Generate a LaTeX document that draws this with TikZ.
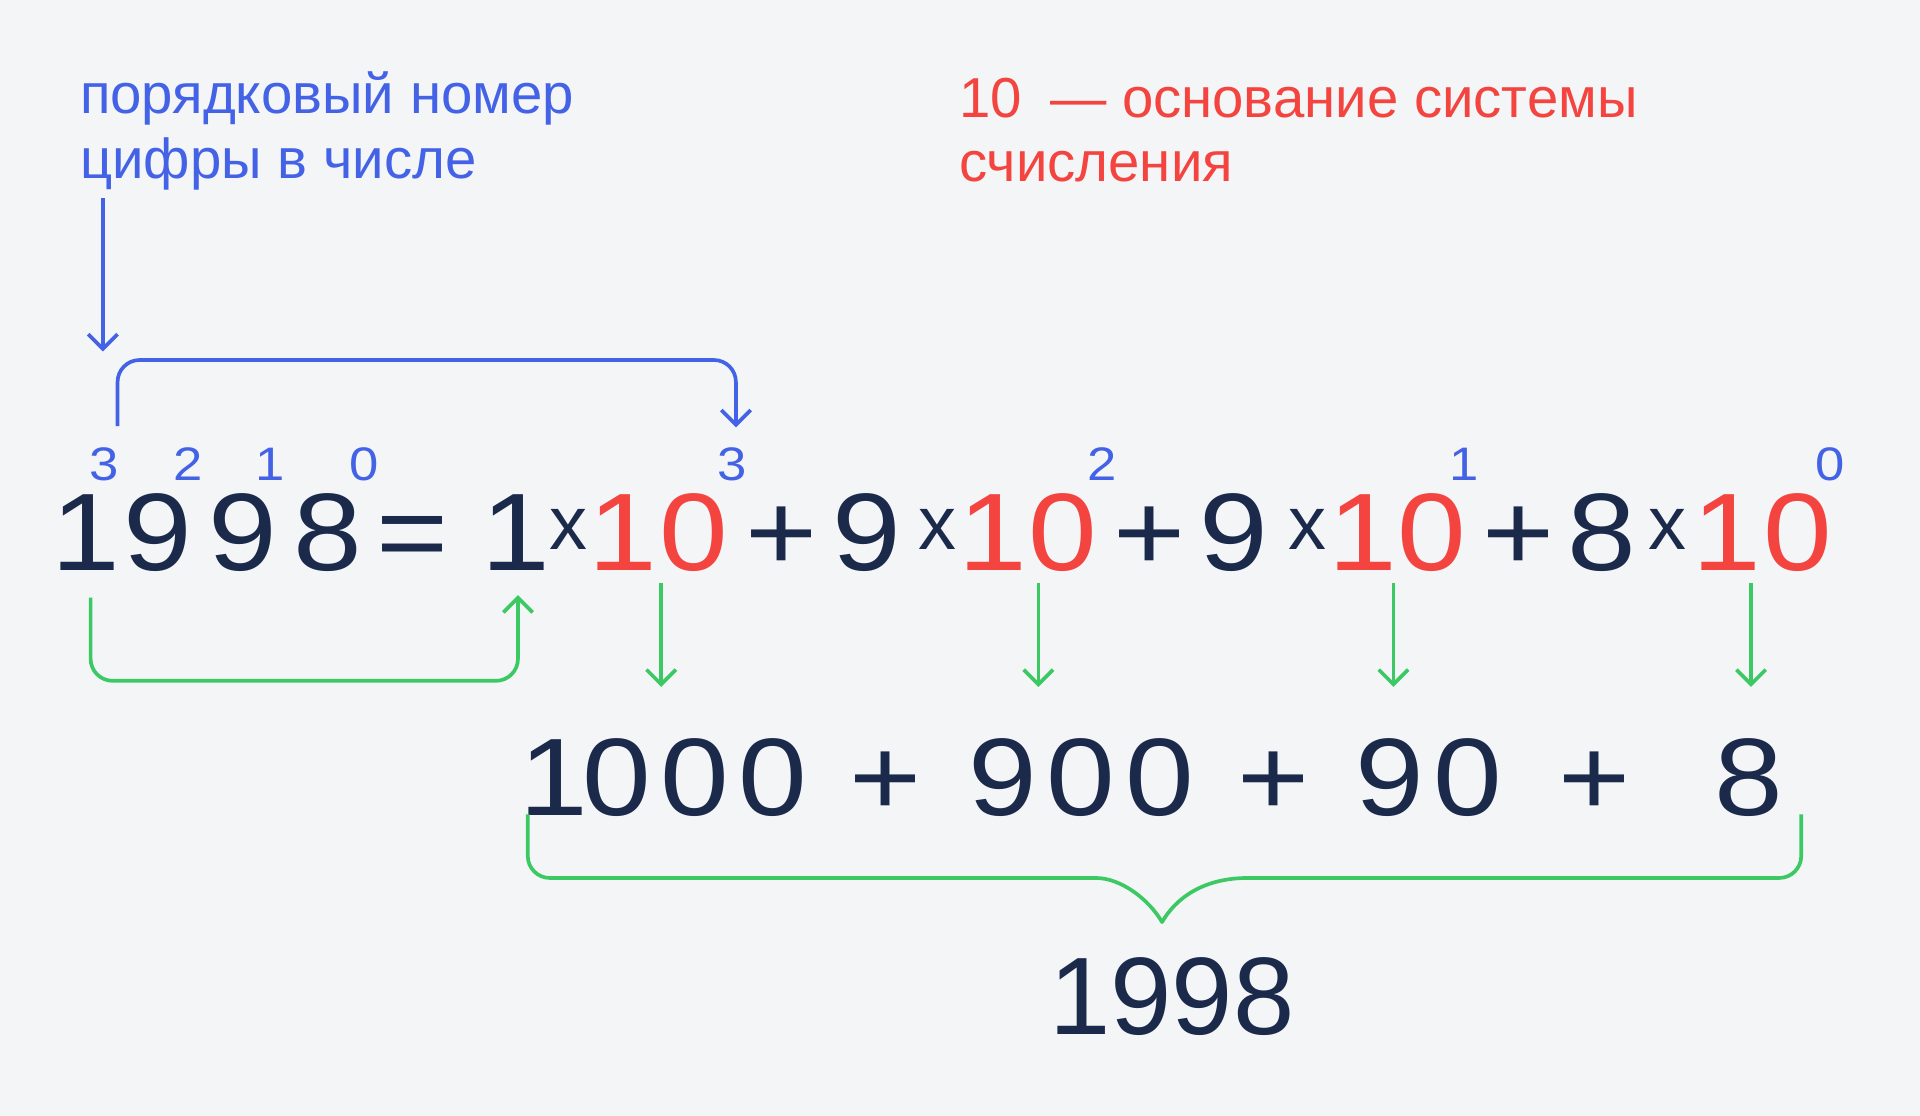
\documentclass[tikz,border=0pt]{standalone}
\usepackage{fontspec}
\setmainfont{Liberation Sans}
\newfontfamily\widefont[FakeStretch=1.12]{Liberation Sans}
\usetikzlibrary{arrows.meta}
\definecolor{bgc}{HTML}{F3F5F7}
\definecolor{navy}{HTML}{1B2A4B}
\definecolor{redc}{HTML}{F4443F}
\definecolor{bluec}{HTML}{4462E6}
\definecolor{greenc}{HTML}{3CC964}
\tikzset{
  mainglyph/.style={inner sep=0pt, anchor=base, text=navy, font=\widefont\fontsize{45}{54}\selectfont},
  baseglyph/.style={mainglyph, text=redc},
  sumglyph/.style={inner sep=0pt, anchor=base, text=navy, font=\fontsize{45}{54}\selectfont},
  supglyph/.style={inner sep=0pt, anchor=base, text=bluec, font=\widefont\fontsize{19.2}{23}\selectfont},
  multglyph/.style={inner sep=0pt, anchor=base, text=navy, font=\fontsize{31}{36}\selectfont},
  bluelabel/.style={inner sep=0pt, anchor=base west, text=bluec, font=\fontsize{23}{28}\selectfont},
  redlabel/.style={inner sep=0pt, anchor=base west, text=redc, font=\fontsize{23}{28}\selectfont},
  arrowd/.style={-{Straight Barb[length=6pt,width=12pt]}},
  bline/.style={draw=bluec, line width=1.5pt},
  gline/.style={draw=greenc, line width=1.5pt},
}
\newcommand{\dk}{\kern4pt}
\begin{document}
\begin{tikzpicture}[x=0.5pt,y=-0.5pt]
\fill[bgc] (0,0) rectangle (1568,911);
\useasboundingbox (0,0) rectangle (1568,911);

% top labels
\node[bluelabel] (bl1) at (65,93) {порядковый номер};
\node[bluelabel] (bl2) at (65,146) {цифры в числе};
\node[redlabel] (rl1) at (783,96) {10\enspace — основание системы};
\node[redlabel] (rl2) at (783,148) {счисления};

% main row
\node[mainglyph] (a1) at (70,466) {1};
\node[mainglyph] (a2) at (129,466) {9};
\node[mainglyph] (a3) at (198,466) {9};
\node[mainglyph] (a4) at (268,466) {8};
\node[mainglyph] (eq) at (337,466) {=};
\node[mainglyph] (c1) at (421,466) {1};
\node[multglyph] (m1) at (464,449) {x};
\node[baseglyph] (t1a) at (509,466) {1};
\node[baseglyph] (t1b) at (567,466) {0};
\node[mainglyph] (p1) at (638,466) {+};
\node[mainglyph] (c2) at (708,466) {9};
\node[multglyph] (m2) at (766,449) {x};
\node[baseglyph] (t2a) at (811,466) {1};
\node[baseglyph] (t2b) at (868,466) {0};
\node[mainglyph] (p2) at (939,466) {+};
\node[mainglyph] (c3) at (1008,466) {9};
\node[multglyph] (m3) at (1068,449) {x};
\node[baseglyph] (t3a) at (1113,466) {1};
\node[baseglyph] (t3b) at (1169,466) {0};
\node[mainglyph] (p3) at (1240,466) {+};
\node[mainglyph] (c4) at (1308,466) {8};
\node[multglyph] (m4) at (1362,449) {x};
\node[baseglyph] (t4a) at (1410,466) {1};
\node[baseglyph] (t4b) at (1468,466) {0};

% superscripts
\node[supglyph] (s3) at (85,392) {3};
\node[supglyph] (s2) at (154,392) {2};
\node[supglyph] (s1) at (221,392) {1};
\node[supglyph] (s0) at (297,392) {0};
\node[supglyph] (e3) at (598,392) {3};
\node[supglyph] (e2) at (900,392) {2};
\node[supglyph] (e1) at (1196,392) {1};
\node[supglyph] (e0) at (1495,392) {0};

% second row
\node[mainglyph] (r1) at (542,666) {1\kern-2.5pt 0\dk0\dk0};
\node[mainglyph] (rp1) at (723,666) {+};
\node[mainglyph] (r2) at (883,666) {9\dk0\dk0};
\node[mainglyph] (rp2) at (1040,666) {+};
\node[mainglyph] (r3) at (1167,666) {9\dk0};
\node[mainglyph] (rp3) at (1302,666) {+};
\node[mainglyph] (r4) at (1428,666) {8};

% result
\node[sumglyph] (res) at (957,845) {1998};

% blue connectors
\coordinate (ba0) at (84,162);
\coordinate (ba1) at (84,287);
\draw[bline, arrowd] (ba0) -- (ba1);
\coordinate (bb0) at (96,348);
\coordinate (bb1) at (601,294);
\coordinate (bb2) at (601,349);
\draw[bline, arrowd, rounded corners=9pt] (bb0) |- (bb1) -- (bb2);

% green connectors
\coordinate (gb0) at (74,488);
\coordinate (gb1) at (423,556);
\coordinate (gb2) at (423,486);
\draw[gline, arrowd, rounded corners=9pt] (gb0) |- (gb1) -- (gb2);
\foreach \xx/\nm in {540/t1, 848/t2, 1138/t3, 1430/t4}{
  \coordinate (\nm top) at (\xx,476);
  \coordinate (\nm bot) at (\xx,561);
  \draw[gline, arrowd] (\nm top) -- (\nm bot);
}

% brace
\coordinate (br0) at (431,665);
\coordinate (br1) at (877,717);
\coordinate (brtip) at (949,753);
\coordinate (br2) at (1019,717);
\coordinate (br3) at (1471,665);
\draw[gline, line join=round] (br0) [rounded corners=9pt] -- (431,717) -- (br1) [sharp corners]
  .. controls (915,717) and (938,734) .. (brtip)
  .. controls (960,734) and (982,717) .. (br2)
  [rounded corners=9pt] -- (1471,717) -- (br3);
\end{tikzpicture}
\end{document}
